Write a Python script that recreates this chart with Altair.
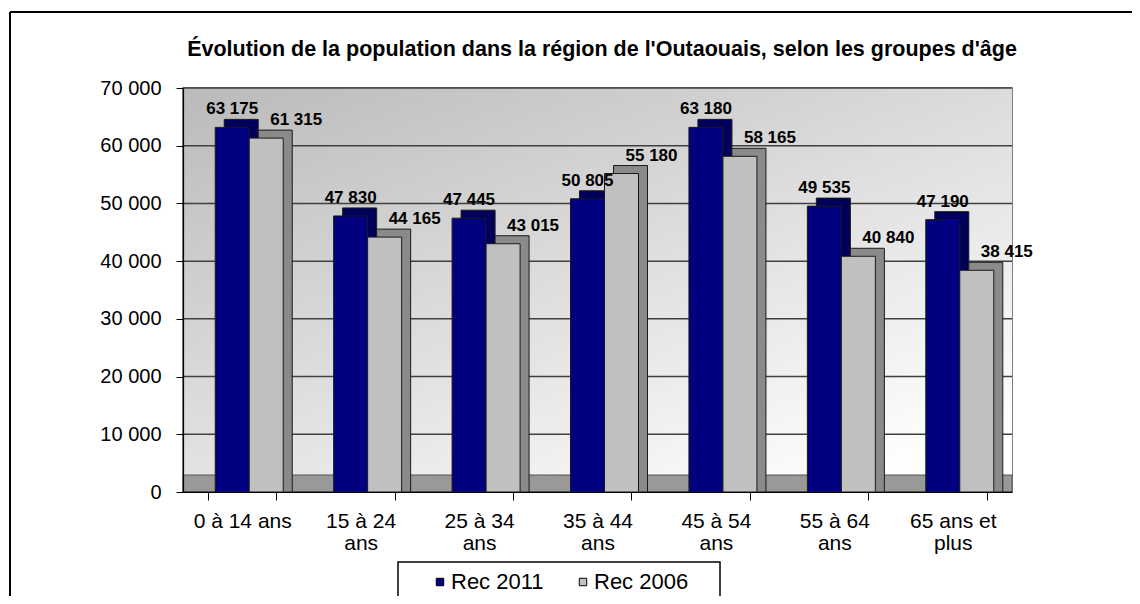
import altair as alt
import pandas as pd

categories = ["0 à 14 ans", "15 à 24 ans", "25 à 34 ans", "35 à 44 ans",
              "45 à 54 ans", "55 à 64 ans", "65 ans et plus"]
series = ["Rec 2011", "Rec 2006"]
rec_2011 = [63175, 47830, 47445, 50805, 63180, 49535, 47190]
rec_2006 = [61315, 44165, 43015, 55180, 58165, 40840, 38415]
y_ticks = [0, 10000, 20000, 30000, 40000, 50000, 60000, 70000]
title_text = "Évolution de la population dans la région de l'Outaouais, selon les groupes d'âge"

rows = []
for i, cat in enumerate(categories):
    for s, vals in zip(series, [rec_2011, rec_2006]):
        v = vals[i]
        rows.append({"groupe": cat, "serie": s, "valeur": v,
                     "etiquette": f"{v:,}".replace(",", " ")})
df = pd.DataFrame(rows)
grid_df = pd.DataFrame({"v": y_ticks})
one = pd.DataFrame({"a": [0]})

W, H = 829, 404
FONT = "Liberation Sans"
FRONT = ["#000080", "#c0c0c0"]
BACK = ["#00005a", "#8a8a8a"]

x_scale = alt.Scale(paddingInner=0.426, paddingOuter=0.213)
y_scale = alt.Scale(domain=[0, 70000], nice=False, zero=True)
xo_front = alt.Scale(domain=series, range=[7, 75], paddingInner=0, paddingOuter=0)
xo_back = alt.Scale(domain=series, range=[16, 84], paddingInner=0, paddingOuter=0)
xo_text = alt.Scale(domain=series, range=[24, 58], padding=0)

split_expr = ("datum.label == '0 à 14 ans' ? datum.label : "
              "[slice(datum.label, 0, lastindexof(datum.label, ' ')), "
              "slice(datum.label, lastindexof(datum.label, ' ') + 1)]")

x_axis = alt.Axis(title=None, labelAngle=0, labelFont=FONT, labelFontSize=21,
                  labelColor="black", labelLineHeight=22, labelPadding=10,
                  tickBand="extent", tickSize=8, tickColor="black",
                  domainColor="black", domainWidth=1.2, labelExpr=split_expr,
                  zindex=1)
y_axis = alt.Axis(title=None, values=y_ticks, grid=False,
                  labelExpr="replace(format(datum.value, ','), ',', ' ')",
                  labelFont=FONT, labelFontSize=20, labelColor="black",
                  labelPadding=15, tickSize=7, tickColor="black",
                  domainColor="black", domainWidth=1.2, zindex=1)

background = alt.Chart(one).mark_rect(
    fill=alt.Gradient(gradient="linear",
                      stops=[alt.GradientStop(color="#bababa", offset=0),
                             alt.GradientStop(color="#ffffff", offset=1)],
                      x1=0, y1=0, x2=0.8, y2=1)
).encode(x=alt.value(0), x2=alt.value(W), y=alt.value(0), y2=alt.value(H))

floor = alt.Chart(one).mark_rect(fill="#999999", stroke="#555555", strokeWidth=1).encode(
    x=alt.value(0), x2=alt.value(W), y=alt.value(387), y2=alt.value(H))

gridlines = alt.Chart(grid_df).mark_rule(color="#404040", strokeWidth=1.5).encode(
    y=alt.Y("v:Q", scale=y_scale, axis=y_axis))

back = alt.Chart(df).mark_bar(yOffset=-8, stroke="#1a1a1a", strokeWidth=1).encode(
    x=alt.X("groupe:N", sort=categories, scale=x_scale, axis=x_axis),
    xOffset=alt.XOffset("serie:N", sort=series, scale=xo_back),
    y=alt.Y("valeur:Q", scale=y_scale, stack=None),
    fill=alt.Fill("serie:N", sort=series, scale=alt.Scale(domain=series, range=BACK), legend=None),
)

front = alt.Chart(df).mark_bar(stroke="#1a1a1a", strokeWidth=1).encode(
    x=alt.X("groupe:N", sort=categories, scale=x_scale),
    xOffset=alt.XOffset("serie:N", sort=series, scale=xo_front),
    y=alt.Y("valeur:Q", scale=y_scale, stack=None),
    color=alt.Color("serie:N", sort=series, scale=alt.Scale(domain=series, range=FRONT),
                    legend=alt.Legend(title=None, orient="none", direction="horizontal",
                                      legendX=246, legendY=483, symbolType="square",
                                      symbolSize=56, symbolStrokeColor="black",
                                      symbolStrokeWidth=1, labelFont=FONT,
                                      labelFontSize=22, labelColor="black",
                                      labelOffset=0, columnPadding=28, zindex=1)),
)

def labels(s, dx):
    return alt.Chart(df).transform_filter(alt.datum.serie == s).mark_text(
        font=FONT, fontSize=17, fontWeight="bold", color="black",
        baseline="alphabetic", dy=-13, dx=dx).encode(
        x=alt.X("groupe:N", sort=categories, scale=x_scale),
        xOffset=alt.XOffset("serie:N", sort=series, scale=xo_text),
        y=alt.Y("valeur:Q", scale=y_scale),
        text="etiquette:N")

legend_box = alt.Chart(one).mark_rect(fill="white", stroke="black", strokeWidth=1.5).encode(
    x=alt.value(215), x2=alt.value(537), y=alt.value(474), y2=alt.value(514))

border_top = alt.Chart(one).mark_rule(color="black", strokeWidth=2).encode(
    x=alt.value(-173), x2=alt.value(949), y=alt.value(-76))
border_left = alt.Chart(one).mark_rule(color="black", strokeWidth=2).encode(
    x=alt.value(-173), y=alt.value(-76), y2=alt.value(520))

title = alt.Chart(one).mark_text(
    font=FONT, fontSize=21.5, fontWeight="bold", color="black",
    align="center", baseline="alphabetic").encode(
    x=alt.value(419), y=alt.value(-32), text=alt.value(title_text))

chart = alt.layer(
    background, floor, gridlines, back, front,
    labels("Rec 2011", 0), labels("Rec 2006", 30),
    legend_box, border_top, border_left, title,
).resolve_scale(color="independent", xOffset="independent").properties(
    width=W, height=H,
    autosize=alt.AutoSizeParams(type="none"),
    padding={"left": 175, "top": 80, "right": 120, "bottom": 104},
).configure_view(stroke="#555555", strokeWidth=1.5)

chart.save("out.html", embed_options={"renderer": "svg", "actions": False})
